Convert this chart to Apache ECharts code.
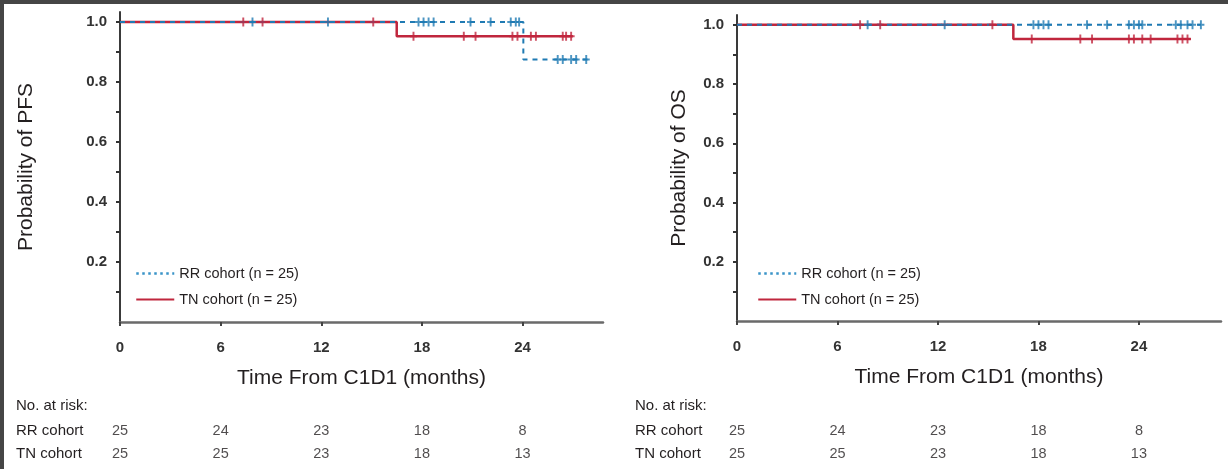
<!DOCTYPE html>
<html>
<head>
<meta charset="utf-8">
<script src="https://cdn.jsdelivr.net/npm/echarts@6/dist/echarts.min.js"></script>
<style>
html,body{margin:0;padding:0;background:#fff;}
#chart{width:1228px;height:469px;}
</style>
</head>
<body>
<div id="chart"></div>
<script>
// ---------- data ----------
const xTicks = [0, 6, 12, 18, 24];
const yTickLabels = [0.2, 0.4, 0.6, 0.8, 1.0];
const yMinorTicks = [0.1, 0.2, 0.3, 0.4, 0.5, 0.6, 0.7, 0.8, 0.9, 1.0];
const nameRR = 'RR cohort (n = 25)';
const nameTN = 'TN cohort (n = 25)';

// PFS Kaplan-Meier steps [month, probability]
const pfsRR = [[0, 1], [24.05, 0.875], [27.9, 0.875]];
const pfsTN = [[0, 1], [16.5, 0.952], [27.0, 0.952]];
const pfsRRcens = [[7.9,1],[12.4,1],[17.8,1],[18.1,1],[18.4,1],[18.7,1],[20.9,1],[22.1,1],[23.3,1],[23.6,1],[23.8,1],
                   [26.1,0.875],[26.4,0.875],[26.9,0.875],[27.2,0.875],[27.8,0.875]];
const pfsTNcens = [[7.35,1],[8.5,1],[15.1,1],
                   [17.5,0.952],[20.5,0.952],[21.2,0.952],[23.4,0.952],[23.7,0.952],[24.5,0.952],[24.8,0.952],[26.4,0.952],[26.6,0.952],[26.9,0.952]];

// OS Kaplan-Meier steps
const osRR = [[0, 1], [27.7, 1]];
const osTN = [[0, 1], [16.5, 0.952], [27.1, 0.952]];
const osRRcens = [[7.8,1],[12.4,1],[17.7,1],[18.0,1],[18.3,1],[18.6,1],[20.9,1],[22.1,1],[23.4,1],[23.7,1],[24.0,1],[24.2,1],
                  [26.2,1],[26.5,1],[26.9,1],[27.2,1],[27.7,1]];
const osTNcens = [[7.35,1],[8.55,1],[15.25,1],
                  [17.6,0.952],[20.5,0.952],[21.2,0.952],[23.4,0.952],[23.7,0.952],[24.2,0.952],[24.7,0.952],[26.3,0.952],[26.6,0.952],[26.9,0.952]];

// numbers at risk
const riskTimes = [0, 6, 12, 18, 24];
const riskRows = ['RR cohort', 'TN cohort'];
const pfsRiskRR = [25, 24, 23, 18, 8];
const pfsRiskTN = [25, 25, 23, 18, 13];
const osRiskRR = [25, 24, 23, 18, 8];
const osRiskTN = [25, 25, 23, 18, 13];

// ---------- styling ----------
const FONT = 'Liberation Sans';
const TXT = '#231f20';
const BLUE = '#1f7ab3';
const RED = '#c0263d';
const PLUS = 'path://M-1.1,-5 L1.1,-5 L1.1,-1.1 L4,-1.1 L4,1.1 L1.1,1.1 L1.1,5 L-1.1,5 L-1.1,1.1 L-4,1.1 L-4,-1.1 L-1.1,-1.1 Z';

function xAxisMain(gridIndex, max) {
  return {
    type: 'value', gridIndex: gridIndex, min: 0, max: max,
    name: 'Time From C1D1 (months)', nameLocation: 'middle', nameGap: 46,
    nameTextStyle: { fontFamily: FONT, fontSize: 21, color: TXT },
    axisLine: { show: true, onZero: false, lineStyle: { color: '#6a6a6a', width: 2.5 } },
    axisTick: { show: true, length: 4, lineStyle: { color: '#444', width: 2 }, customValues: xTicks },
    axisLabel: { show: true, margin: 18, fontFamily: FONT, fontSize: 15, fontWeight: 'bold', color: '#333', customValues: xTicks },
    splitLine: { show: false }
  };
}
function yAxisMain(gridIndex, name, gap) {
  return {
    type: 'value', gridIndex: gridIndex, min: 0, max: 1.033,
    name: name, nameLocation: 'middle', nameGap: gap, nameRotate: 90,
    nameTextStyle: { fontFamily: FONT, fontSize: 21, color: TXT },
    axisLine: { show: true, onZero: false, lineStyle: { color: '#3a3a3a', width: 2 } },
    axisTick: { show: true, length: 4, lineStyle: { color: '#333', width: 2 }, customValues: yMinorTicks },
    axisLabel: { show: true, margin: 13, fontFamily: FONT, fontSize: 15, fontWeight: 'bold', color: '#333',
                 customValues: yTickLabels, formatter: v => v.toFixed(1) },
    splitLine: { show: false }
  };
}
function xAxisRisk(gridIndex, max) {
  return { type: 'value', gridIndex: gridIndex, min: 0, max: max, show: false };
}
function yAxisRisk(gridIndex, margin) {
  return {
    type: 'category', gridIndex: gridIndex, data: riskRows, inverse: true,
    axisLine: { show: false }, axisTick: { show: false }, splitLine: { show: false },
    axisLabel: { show: true, align: 'left', margin: margin, fontFamily: FONT, fontSize: 15, color: TXT }
  };
}
function kmLine(name, data, xi, color, dashed) {
  return {
    type: 'line', name: name, xAxisIndex: xi, yAxisIndex: xi, data: data, step: 'end',
    symbol: 'none', z: dashed ? 4 : 3,
    lineStyle: { color: color, width: dashed ? 2 : 2.5, type: dashed ? [5, 5] : 'solid' },
    itemStyle: { color: color }
  };
}
function censor(name, data, xi, color) {
  return {
    type: 'scatter', name: name, xAxisIndex: xi, yAxisIndex: xi, data: data,
    symbol: PLUS, symbolSize: [7, 9], itemStyle: { color: color }, z: 5, silent: true
  };
}
function riskSeries(name, counts, rowIdx, xi) {
  return {
    type: 'scatter', name: name, xAxisIndex: xi, yAxisIndex: xi, symbolSize: 0, silent: true,
    data: riskTimes.map((t, i) => [t, rowIdx, counts[i]]),
    label: { show: true, position: 'inside', formatter: p => String(p.value[2]),
             fontFamily: FONT, fontSize: 14.5, color: TXT }
  };
}
function legendAt(left) {
  return {
    left: left, top: 266, padding: 0, orient: 'vertical', itemWidth: 38, itemHeight: 14, itemGap: 11,
    selectedMode: false,
    data: [{ name: nameRR, lineStyle: { type: [2.5, 3.5], width: 2.5, color: '#3a94c8' } }, nameTN],
    itemStyle: { opacity: 0, borderWidth: 0 },
    textStyle: { fontFamily: FONT, fontSize: 14.5, color: TXT }
  };
}

const option = {
  animation: false,
  backgroundColor: '#ffffff',
  textStyle: { fontFamily: FONT },
  title: [
    { text: 'No. at risk:', left: 16, top: 398, padding: 0, textStyle: { fontFamily: FONT, fontSize: 15, fontWeight: 'normal', color: TXT } },
    { text: 'No. at risk:', left: 635, top: 398, padding: 0, textStyle: { fontFamily: FONT, fontSize: 15, fontWeight: 'normal', color: TXT } }
  ],
  legend: [legendAt(135), legendAt(757)],
  grid: [
    { left: 120, top: 12, width: 483, height: 310 },
    { left: 737, top: 15, width: 484, height: 306 },
    { left: 120, top: 419, width: 483, height: 46 },
    { left: 737, top: 419, width: 484, height: 46 }
  ],
  xAxis: [xAxisMain(0, 28.8), xAxisMain(1, 28.9), xAxisRisk(2, 28.8), xAxisRisk(3, 28.9)],
  yAxis: [yAxisMain(0, 'Probability of PFS', 83), yAxisMain(1, 'Probability of OS', 47), yAxisRisk(2, 104), yAxisRisk(3, 102)],
  series: [
    kmLine(nameTN, pfsTN, 0, RED, false),
    kmLine(nameRR, pfsRR, 0, BLUE, true),
    censor('TN censored PFS', pfsTNcens, 0, RED),
    censor('RR censored PFS', pfsRRcens, 0, BLUE),
    kmLine(nameTN, osTN, 1, RED, false),
    kmLine(nameRR, osRR, 1, BLUE, true),
    censor('TN censored OS', osTNcens, 1, RED),
    censor('RR censored OS', osRRcens, 1, BLUE),
    riskSeries('PFS risk RR', pfsRiskRR, 0, 2),
    riskSeries('PFS risk TN', pfsRiskTN, 1, 2),
    riskSeries('OS risk RR', osRiskRR, 0, 3),
    riskSeries('OS risk TN', osRiskTN, 1, 3)
  ],
  graphic: [
    { type: 'rect', left: 0, top: 0, shape: { width: 1228, height: 4 }, style: { fill: '#454545' }, silent: true, z: 100 },
    { type: 'rect', left: 0, top: 0, shape: { width: 4, height: 469 }, style: { fill: '#454545' }, silent: true, z: 100 }
  ]
};

const chart = echarts.init(document.getElementById('chart'), null, { renderer: 'canvas' });
chart.setOption(option);
</script>
</body>
</html>
